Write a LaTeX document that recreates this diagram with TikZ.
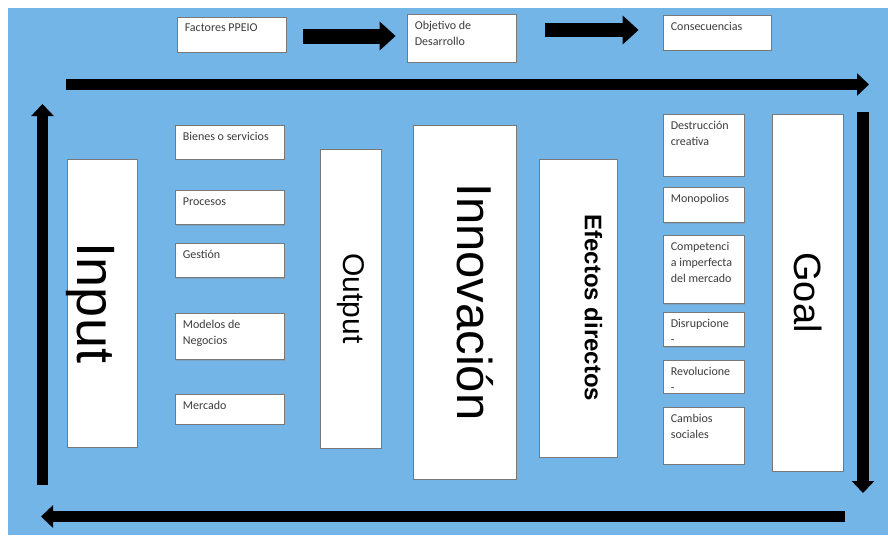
\documentclass[tikz,border=0pt]{standalone}
\usepackage{fontspec}
\setmainfont{Carlito}
\newfontfamily\arialfont{Liberation Sans}
\usetikzlibrary{positioning,arrows.meta,shadows}
\definecolor{bgblue}{RGB}{116,181,232}
\definecolor{boxline}{RGB}{120,120,120}
\definecolor{tagtext}{RGB}{60,60,60}
% rotated title, nudged across the column
\newcommand{\coltitle}[2]{\rotatebox{-90}{\raisebox{#1}[\height][\depth]{#2}}}

\begin{document}
\begin{tikzpicture}[x=1pt,y=-1pt,
  box/.style={draw=boxline,fill=white,line width=0.8pt,inner sep=0pt,
    drop shadow={shadow xshift=0.5pt,shadow yshift=-1.2pt,opacity=0.35}},
  tag/.style={anchor=north west,inner sep=0pt,xshift=8pt,yshift=-7pt,align=left,
    text=tagtext,font=\fontsize{12}{16}\selectfont},
  left box/.style={box,minimum width=109pt},
  right box/.style={box,minimum width=81pt},
  big font/.style={font=\arialfont\fontsize{#1}{#1}\selectfont},
  fat arrow/.style={line width=11pt,-{Triangle[width=22pt,length=12pt]}},
  step arrow/.style={line width=15pt,-{Triangle[width=28pt,length=16pt]}}]

  \useasboundingbox (0,0) rectangle (888,536);
  \fill[white] (0,0) rectangle (888,536);
  \fill[bgblue] (8,8) rectangle (888,535);

  % top row
  \node[box,minimum width=109pt,minimum height=35pt,label={[tag]north west:Factores PPEIO}] (ppeio) at (231.5,34.5) {};
  \node[box,minimum width=109pt,minimum height=48pt,label={[tag]north west:{Objetivo de\\Desarrollo}}] (objetivo) at (461.5,38) {};
  \node[box,minimum width=108pt,minimum height=35pt,label={[tag]north west:Consecuencias}] (consecuencias) at (717,32.5) {};

  \draw[step arrow,shorten <=17pt,shorten >=11pt] (ppeio.east |- 0,36) -- (objetivo.west |- 0,36);
  \draw[step arrow,line width=14pt,shorten <=29pt,shorten >=24pt] (objetivo.east |- 0,30) -- (consecuencias.west |- 0,30);

  % big columns
  \node[box,big font=54,minimum width=70pt,minimum height=288pt] (input) at (102,303) {\coltitle{-12pt}{Input}};
  \node[box,big font=30,minimum width=61pt,minimum height=299pt] (output) at (350.5,298.5) {\coltitle{0pt}{Output}};
  \node[box,big font=49,minimum width=103pt,minimum height=354pt] (innovacion) at (464.5,302) {\coltitle{10.5pt}{Innovación}};
  \node[box,big font=24,minimum width=78pt,minimum height=298pt] (efectos) at (578,308) {\coltitle{15.5pt}{\bfseries Efectos directos}};
  \node[box,big font=38,minimum width=71pt,minimum height=357pt] (goal) at (807.5,292.5) {\coltitle{1pt}{Goal}};

  % left column
  \node[left box,minimum height=34pt,label={[tag]north west:Bienes o servicios}] (bienes) at (229.5,142) {};
  \node[left box,minimum height=34pt,below=31pt of bienes,label={[tag]north west:Procesos}] (procesos) {};
  \node[left box,minimum height=34pt,below=18pt of procesos,label={[tag]north west:Gestión}] (gestion) {};
  \node[left box,minimum height=46pt,below=35pt of gestion,label={[tag]north west:{Modelos de\\Negocios}}] (modelos) {};
  \node[left box,minimum height=30pt,below=34pt of modelos,label={[tag]north west:Mercado}] (mercado) {};

  % right column
  \node[right box,minimum height=62pt,label={[tag]north west:{Destrucción\\creativa}}] (destruccion) at (703.5,145) {};
  \node[right box,minimum height=35pt,below=11pt of destruccion,label={[tag]north west:Monopolios}] (monopolios) {};
  \node[right box,minimum height=68pt,below=12pt of monopolios,label={[tag]north west:{Competenci\\a imperfecta\\del mercado}}] (competencia) {};
  \node[right box,minimum height=34pt,below=8pt of competencia,label={[tag]north west:{Disrupcione\\-}}] (disrupciones) {};
  \node[right box,minimum height=33pt,below=13pt of disrupciones,label={[tag]north west:{Revolucione\\-}}] (revoluciones) {};
  \node[right box,minimum height=57pt,below=13pt of revoluciones,label={[tag]north west:{Cambios\\sociales}}] (cambios) {};

  % the loop round the frame
  \coordinate (tl) at (66,84.5);
  \coordinate (tr) at (869,84.5);
  \coordinate (rt) at (863,112);
  \coordinate (rb) at (863,493);
  \coordinate (br) at (845,516.5);
  \coordinate (bl) at (41,516.5);
  \coordinate (lb) at (42.5,485);
  \coordinate (lt) at (42.5,104);

  \draw[fat arrow] (tl) -- (tr);
  \draw[fat arrow,line width=12pt] (rt) -- (rb);
  \draw[fat arrow] (br) -- (bl);
  \draw[fat arrow] (lb) -- (lt);
\end{tikzpicture}
\end{document}
